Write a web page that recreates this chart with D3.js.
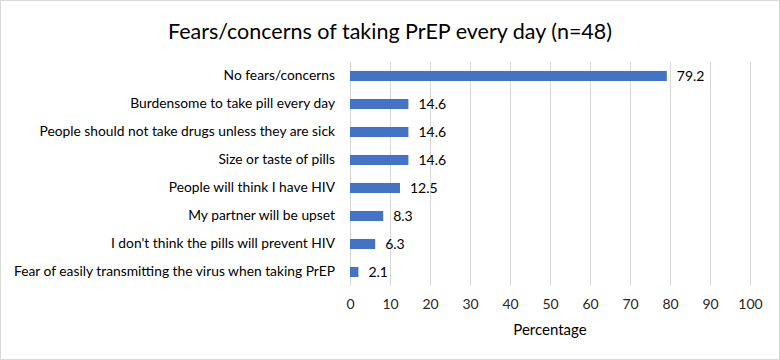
<!DOCTYPE html>
<html>
<head>
<meta charset="utf-8">
<script src="https://cdn.jsdelivr.net/npm/d3@7"></script>
<style>
  body { margin: 0; background: #fff; }
  svg text { font-family: Lato, "Open Sans", sans-serif; }
</style>
</head>
<body>
<div class="svg-container"></div>
<script>
// chart data
const categories = [
  'No fears/concerns',
  'Burdensome to take pill every day',
  'People should not take drugs unless they are sick',
  'Size or taste of pills',
  'People will think I have HIV',
  'My partner will be upset',
  "I don't think the pills will prevent HIV",
  'Fear of easily transmitting the virus when taking PrEP'
];
const percentages = [79.2, 14.6, 14.6, 14.6, 12.5, 8.3, 6.3, 2.1];
const xTicks = [0, 10, 20, 30, 40, 50, 60, 70, 80, 90, 100];

const data = categories.map((c, i) => ({ label: c, value: percentages[i] }));

const W = 780, H = 360;
const margin = {top: 62, right: 30, bottom: 74, left: 350};
const width = W - margin.left - margin.right;
const height = H - margin.top - margin.bottom;

const svg = d3.select('.svg-container')
  .append('svg')
  .attr('width', W)
  .attr('height', H);

// outer frame
svg.append('rect')
  .attr('x', 0.5).attr('y', 0.5)
  .attr('width', W - 1).attr('height', H - 1)
  .attr('fill', '#fff')
  .attr('stroke', '#d9d9d9');

// title
svg.append('text')
  .attr('x', W / 2)
  .attr('y', 39)
  .attr('text-anchor', 'middle')
  .attr('font-size', 21.5)
  .attr('fill', '#000')
  .text('Fears/concerns of taking PrEP every day (n=48)');

const g = svg.append('g')
  .attr('transform', `translate(${margin.left}, ${margin.top})`);

const xScale = d3.scaleLinear().domain([0, 100]).range([0, width]);
const yScale = d3.scaleBand()
  .domain(categories)
  .range([0, height])
  .paddingInner(0.64)
  .paddingOuter(0.32);

// gridlines
g.append('g')
  .selectAll('line')
  .data(xTicks)
  .enter()
  .append('line')
  .attr('x1', d => Math.round(xScale(d)) + 0.5)
  .attr('x2', d => Math.round(xScale(d)) + 0.5)
  .attr('y1', 0)
  .attr('y2', height)
  .attr('stroke', '#d9d9d9')
  .attr('stroke-width', 1);

// x axis labels
const xAxis = d3.axisBottom(xScale).tickValues(xTicks).tickSize(0).tickPadding(13);
const xAxisDraw = g.append('g')
  .attr('transform', `translate(0, ${height})`)
  .call(xAxis);
xAxisDraw.select('.domain').remove();
xAxisDraw.selectAll('text')
  .attr('font-size', 14)
  .attr('fill', '#262626')
  .style('font-family', 'Lato, "Open Sans", sans-serif');

// y axis labels
const yAxis = d3.axisLeft(yScale).tickSize(0).tickPadding(15);
const yAxisDraw = g.append('g').call(yAxis);
yAxisDraw.select('.domain').remove();
yAxisDraw.selectAll('text')
  .attr('font-size', 13.8)
  .attr('fill', '#000')
  .style('font-family', 'Lato, "Open Sans", sans-serif');

// bars
g.selectAll('.bar')
  .data(data)
  .enter()
  .append('rect')
  .attr('class', 'bar')
  .attr('x', xScale(0))
  .attr('y', d => yScale(d.label))
  .attr('width', d => xScale(d.value) - xScale(0))
  .attr('height', yScale.bandwidth())
  .attr('fill', '#4472c4');

// value labels
g.selectAll('.val')
  .data(data)
  .enter()
  .append('text')
  .attr('class', 'val')
  .attr('x', d => xScale(d.value) + 10)
  .attr('y', d => yScale(d.label) + yScale.bandwidth() / 2)
  .attr('dy', '0.35em')
  .attr('font-size', 14)
  .attr('fill', '#000')
  .text(d => d.value.toFixed(1));

// axis title
svg.append('text')
  .attr('x', margin.left + width / 2)
  .attr('y', 335)
  .attr('text-anchor', 'middle')
  .attr('font-size', 15)
  .attr('fill', '#000')
  .text('Percentage');
</script>
</body>
</html>
